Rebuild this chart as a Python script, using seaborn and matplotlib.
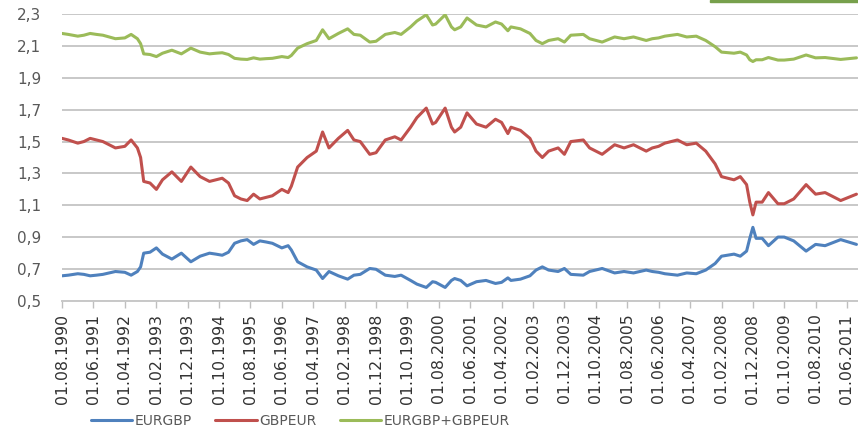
import matplotlib
matplotlib.use("Agg")
import matplotlib.pyplot as plt
import matplotlib.dates as mdates
from matplotlib.patches import Rectangle
import pandas as pd
import seaborn as sns

# Monthly observation dates (only the turning points are kept)
dates = [
    "1990-08", "1990-10", "1991-01", "1991-03", "1991-05", "1991-07", "1991-09", "1991-11", "1992-01", "1992-04",
    "1992-06", "1992-08", "1992-09", "1992-10", "1992-12", "1993-02", "1993-04", "1993-07", "1993-10", "1994-01",
    "1994-04", "1994-07", "1994-09", "1994-11", "1995-01", "1995-03", "1995-05", "1995-07", "1995-09", "1995-11",
    "1996-01", "1996-03", "1996-06", "1996-08", "1996-09", "1996-11", "1997-02", "1997-05", "1997-07", "1997-09",
    "1997-12", "1998-03", "1998-05", "1998-07", "1998-10", "1998-12", "1999-03", "1999-06", "1999-08", "1999-11",
    "2000-01", "2000-04", "2000-06", "2000-07", "2000-10", "2000-12", "2001-01", "2001-03", "2001-05", "2001-08",
    "2001-11", "2002-02", "2002-04", "2002-06", "2002-07", "2002-10", "2003-01", "2003-03", "2003-05", "2003-07",
    "2003-10", "2003-12", "2004-02", "2004-06", "2004-08", "2004-12", "2005-04", "2005-07", "2005-10", "2006-02",
    "2006-04", "2006-06", "2006-08", "2006-12", "2007-03", "2007-06", "2007-09", "2007-12", "2008-02", "2008-06",
    "2008-08", "2008-10", "2008-11", "2008-12", "2009-01", "2009-03", "2009-05", "2009-08", "2009-10", "2010-01",
    "2010-05", "2010-08", "2010-11", "2011-04", "2011-09",
]

eurgbp = [
    0.658, 0.662, 0.671, 0.667, 0.658, 0.662, 0.667, 0.676, 0.685, 0.680,
    0.662, 0.685, 0.714, 0.800, 0.806, 0.833, 0.794, 0.763, 0.800, 0.746,
    0.781, 0.800, 0.794, 0.787, 0.806, 0.862, 0.877, 0.885, 0.855, 0.877,
    0.870, 0.862, 0.833, 0.847, 0.820, 0.746, 0.714, 0.694, 0.641, 0.685,
    0.658, 0.637, 0.662, 0.667, 0.704, 0.699, 0.662, 0.654, 0.662, 0.629,
    0.606, 0.585, 0.621, 0.617, 0.585, 0.629, 0.641, 0.629, 0.595, 0.621,
    0.629, 0.610, 0.617, 0.645, 0.629, 0.637, 0.658, 0.694, 0.714, 0.694,
    0.685, 0.704, 0.667, 0.662, 0.685, 0.704, 0.676, 0.685, 0.676, 0.694,
    0.685, 0.680, 0.671, 0.662, 0.676, 0.671, 0.694, 0.735, 0.781, 0.794,
    0.781, 0.813, 0.893, 0.962, 0.893, 0.893, 0.847, 0.901, 0.901, 0.877,
    0.813, 0.855, 0.847, 0.885, 0.855,
]

gbpeur = [
    1.52, 1.51, 1.49, 1.50, 1.52, 1.51, 1.50, 1.48, 1.46, 1.47,
    1.51, 1.46, 1.40, 1.25, 1.24, 1.20, 1.26, 1.31, 1.25, 1.34,
    1.28, 1.25, 1.26, 1.27, 1.24, 1.16, 1.14, 1.13, 1.17, 1.14,
    1.15, 1.16, 1.20, 1.18, 1.22, 1.34, 1.40, 1.44, 1.56, 1.46,
    1.52, 1.57, 1.51, 1.50, 1.42, 1.43, 1.51, 1.53, 1.51, 1.59,
    1.65, 1.71, 1.61, 1.62, 1.71, 1.59, 1.56, 1.59, 1.68, 1.61,
    1.59, 1.64, 1.62, 1.55, 1.59, 1.57, 1.52, 1.44, 1.40, 1.44,
    1.46, 1.42, 1.50, 1.51, 1.46, 1.42, 1.48, 1.46, 1.48, 1.44,
    1.46, 1.47, 1.49, 1.51, 1.48, 1.49, 1.44, 1.36, 1.28, 1.26,
    1.28, 1.23, 1.12, 1.04, 1.12, 1.12, 1.18, 1.11, 1.11, 1.14,
    1.23, 1.17, 1.18, 1.13, 1.17,
]

series_names = ["EURGBP", "GBPEUR", "EURGBP+GBPEUR"]
series_colors = ["#4f81bd", "#c0504d", "#9bbb59"]

tick_labels = [
    "01.08.1990", "01.06.1991", "01.04.1992", "01.02.1993", "01.12.1993", "01.10.1994",
    "01.08.1995", "01.06.1996", "01.04.1997", "01.02.1998", "01.12.1998", "01.10.1999",
    "01.08.2000", "01.06.2001", "01.04.2002", "01.02.2003", "01.12.2003", "01.10.2004",
    "01.08.2005", "01.06.2006", "01.04.2007", "01.02.2008", "01.12.2008", "01.10.2009",
    "01.08.2010", "01.06.2011",
]
y_ticks = [0.5, 0.7, 0.9, 1.1, 1.3, 1.5, 1.7, 1.9, 2.1, 2.3]

# Build the long-form table
wide = pd.DataFrame({
    "date": pd.to_datetime(dates, format="%Y-%m"),
    "EURGBP": eurgbp,
    "GBPEUR": gbpeur,
})
wide["EURGBP+GBPEUR"] = wide["EURGBP"] + wide["GBPEUR"]
long = wide.melt(id_vars="date", value_vars=series_names, var_name="series", value_name="rate")

sns.set_theme(style="white")
plt.rcParams["font.family"] = ["DejaVu Sans"]

fig = plt.figure(figsize=(8.58, 4.33), dpi=100)
ax = fig.add_axes([62 / 858, 1 - 301 / 433, 1 - 62 / 858, (301 - 14) / 433])

sns.lineplot(
    data=long, x="date", y="rate", hue="series", hue_order=series_names,
    palette=dict(zip(series_names, series_colors)), linewidth=2.2, ax=ax,
    legend=True,
)

# Axes limits and grid
ax.set_ylim(0.5, 2.3)
ax.set_xlim(pd.Timestamp("1990-08-01"), pd.Timestamp("2011-09-16"))
ax.set_yticks(y_ticks)
ax.set_yticklabels([f"{v:.1f}".replace(".", ",") for v in y_ticks])
ax.yaxis.grid(True, color="#c8c8c8", linewidth=1.4)
ax.set_axisbelow(True)

tick_dates = pd.to_datetime(tick_labels, format="%d.%m.%Y")
ax.set_xticks(mdates.date2num(tick_dates))
ax.set_xticklabels(tick_labels, rotation=90)

ax.tick_params(axis="x", direction="out", length=5, width=1, color="#bfbfbf",
               labelsize=11.3, labelcolor="#333333", pad=4, bottom=True)
ax.tick_params(axis="y", length=0, labelsize=11, labelcolor="#595959", pad=15)

for side in ["left", "right", "top"]:
    ax.spines[side].set_visible(False)
ax.spines["bottom"].set_color("#c8c8c8")
ax.spines["bottom"].set_linewidth(1.4)

ax.set_xlabel("")
ax.set_ylabel("")

# Legend below the plot
handles, labels = ax.get_legend_handles_labels()
ax.get_legend().remove()
fig.legend(
    handles, labels, loc="center left", bbox_to_anchor=(78 / 858, 1 - 421 / 433),
    ncol=3, frameon=False, fontsize=10, handlelength=3.0, handletextpad=0.15,
    columnspacing=1.7, labelcolor="#595959",
)

# Edge of the neighbouring frame at the top right
fig.patches.append(Rectangle((710 / 858, 1 - 2 / 433), 148 / 858, 2 / 433,
                             transform=fig.transFigure, color="#77a04c", zorder=5))

fig.savefig("out.png", dpi=100)
